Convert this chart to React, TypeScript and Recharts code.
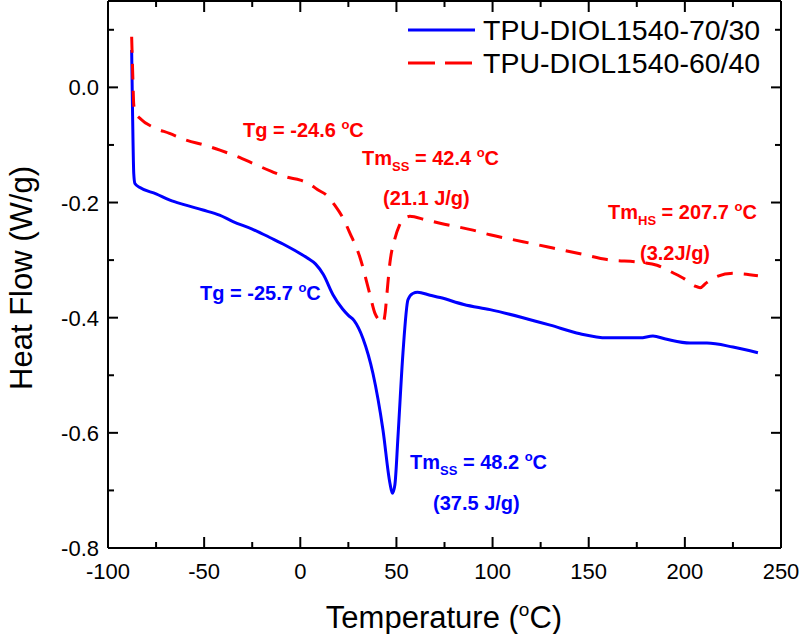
import React from "react";
import { Line, LineChart, XAxis, YAxis } from "recharts";

// TPU-DIOL1540-70/30 (solid blue)
const BLUE_T = [
  -87.7, -87.2, -86.6, -86.0, -83.4, -75, -67.8, -60, -50.6, -42, -35, -25, -15, -9, -3,
  3.5, 8, 12, 17, 22, 25, 28, 32.6, 37.8, 43, 46.6, 47.9, 49.2, 50.8, 53.4, 56, 58.5, 61,
  67.5, 72.7, 85, 98.7, 115.8, 130, 145.5, 159.5, 176.7, 183.4, 190, 202.7, 211.5, 225, 238,
];
const BLUE_H = [
  0.065, -0.05, -0.15, -0.167, -0.174, -0.185, -0.196, -0.204, -0.213, -0.222, -0.233, -0.246,
  -0.262, -0.272, -0.283, -0.296, -0.307, -0.325, -0.36, -0.385, -0.396, -0.405, -0.436,
  -0.497, -0.595, -0.687, -0.705, -0.69, -0.607, -0.461, -0.369, -0.358, -0.356, -0.361,
  -0.365, -0.377, -0.386, -0.4, -0.413, -0.428, -0.435, -0.435, -0.432, -0.437, -0.444,
  -0.444, -0.451, -0.461,
];

// TPU-DIOL1540-60/40 (dashed red)
const RED_T = [
  -87.7, -87.2, -86.6, -86.0, -83, -76.6, -68, -58.9, -50, -41.8, -33, -24.6, -15, -6.9, 0,
  5, 8.7, 13.9, 18, 22.2, 25.8, 31, 36, 38.9, 41, 43, 44.2, 45.1, 46.6, 49, 51.5, 54, 57,
  65, 72.7, 89.8, 98.7, 115.8, 131.4, 147, 159.5, 176.7, 185.5, 193.8, 200, 205.3, 207.9,
  211, 215.7, 225, 238,
];
const RED_H = [
  0.088, 0.03, -0.03, -0.042, -0.055, -0.069, -0.08, -0.092, -0.1, -0.109, -0.12, -0.132,
  -0.146, -0.156, -0.161, -0.168, -0.177, -0.188, -0.205, -0.227, -0.253, -0.295, -0.357,
  -0.393, -0.404, -0.409, -0.39, -0.357, -0.305, -0.265, -0.24, -0.228, -0.224, -0.23,
  -0.236, -0.248, -0.256, -0.268, -0.279, -0.29, -0.299, -0.304, -0.309, -0.322, -0.333,
  -0.345, -0.348, -0.34, -0.33, -0.323, -0.327,
];

const X_TICKS = [-100, -75, -50, -25, 0, 25, 50, 75, 100, 125, 150, 175, 200, 225, 250];
const Y_TICKS = [-0.8, -0.7, -0.6, -0.5, -0.4, -0.3, -0.2, -0.1, 0, 0.1];

const BLUE = "#0000ff";
const RED = "#ff0000";
const FONT = "Arial, 'Liberation Sans', sans-serif";

const blueData = BLUE_T.map((t, i) => ({ t, h: BLUE_H[i] }));
const redData = RED_T.map((t, i) => ({ t, h: RED_H[i] }));

const isMajorX = (v: number) => v % 50 === 0;
const isMajorY = (v: number) => Math.round(v * 10) % 2 === 0;

function BottomTick({ x, y, payload }: any) {
  const major = isMajorX(payload.value);
  return (
    <g>
      <line x1={x} x2={x} y1={y} y2={y - (major ? 11 : 6)} stroke="#000" strokeWidth={2} />
      {major && (
        <text x={x} y={y + 31} textAnchor="middle" fontSize={22} fontFamily={FONT} fill="#000">
          {payload.value}
        </text>
      )}
    </g>
  );
}

function TopTick({ x, y, payload }: any) {
  const major = isMajorX(payload.value);
  return <line x1={x} x2={x} y1={y} y2={y + (major ? 11 : 6)} stroke="#000" strokeWidth={2} />;
}

function LeftTick({ x, y, payload }: any) {
  const major = isMajorY(payload.value);
  return (
    <g>
      <line x1={x} x2={x + (major ? 10 : 6)} y1={y} y2={y} stroke="#000" strokeWidth={2} />
      {major && (
        <text x={x - 9} y={y + 8} textAnchor="end" fontSize={22} fontFamily={FONT} fill="#000">
          {payload.value.toFixed(1)}
        </text>
      )}
    </g>
  );
}

function RightTick({ x, y, payload }: any) {
  const major = isMajorY(payload.value);
  return <line x1={x} x2={x - (major ? 10 : 6)} y1={y} y2={y} stroke="#000" strokeWidth={2} />;
}

// bold annotation: main text, optional subscript, then "= value °C"
function Note({ x, y, color, main, sub, rest, deg }: any) {
  return (
    <text x={x} y={y} fill={color} fontSize={20} fontWeight="bold" fontFamily={FONT}>
      {main}
      {sub && (
        <tspan fontSize={13} dy={6}>
          {sub}
        </tspan>
      )}
      <tspan dy={sub ? -6 : 0}>{rest}</tspan>
      {deg && (
        <>
          <tspan fontSize={13} dy={-8}>
            o
          </tspan>
          <tspan dy={8}>C</tspan>
        </>
      )}
    </text>
  );
}

export default function App() {
  return (
    <div style={{ position: "absolute", left: 0, top: 0, width: 800, height: 634, background: "#fff" }}>
      <LineChart width={800} height={634} data={blueData} margin={{ top: 0, right: 18, bottom: 0, left: 0 }}>
        <XAxis
          xAxisId="bottom"
          dataKey="t"
          type="number"
          domain={[-100, 250]}
          ticks={X_TICKS}
          interval={0}
          height={86}
          tickSize={0}
          tickMargin={0}
          tickLine={false}
          axisLine={{ stroke: "#000", strokeWidth: 2 }}
          tick={(p: any) => <BottomTick {...p} />}
          allowDataOverflow
        />
        <XAxis
          xAxisId="top"
          orientation="top"
          dataKey="t"
          type="number"
          domain={[-100, 250]}
          ticks={X_TICKS}
          interval={0}
          height={1}
          tickSize={0}
          tickMargin={0}
          tickLine={false}
          axisLine={{ stroke: "#000", strokeWidth: 2 }}
          tick={(p: any) => <TopTick {...p} />}
          allowDataOverflow
        />
        <YAxis
          yAxisId="left"
          type="number"
          domain={[-0.8, 0.15]}
          ticks={Y_TICKS}
          interval={0}
          width={108}
          tickSize={0}
          tickMargin={0}
          tickLine={false}
          axisLine={{ stroke: "#000", strokeWidth: 2 }}
          tick={(p: any) => <LeftTick {...p} />}
          allowDataOverflow
        />
        <YAxis
          yAxisId="right"
          orientation="right"
          type="number"
          domain={[-0.8, 0.15]}
          ticks={Y_TICKS}
          interval={0}
          width={1}
          tickSize={0}
          tickMargin={0}
          tickLine={false}
          axisLine={{ stroke: "#000", strokeWidth: 2 }}
          tick={(p: any) => <RightTick {...p} />}
          allowDataOverflow
        />
        <Line
          xAxisId="bottom"
          yAxisId="left"
          data={blueData}
          dataKey="h"
          type="monotone"
          stroke={BLUE}
          strokeWidth={3}
          dot={false}
          isAnimationActive={false}
        />
        <Line
          xAxisId="bottom"
          yAxisId="left"
          data={redData}
          dataKey="h"
          type="monotone"
          stroke={RED}
          strokeWidth={3}
          strokeDasharray="16 11"
          dot={false}
          isAnimationActive={false}
        />
      </LineChart>

      <svg width={800} height={634} style={{ position: "absolute", left: 0, top: 0, pointerEvents: "none" }}>
        {/* legend */}
        <line x1={408} x2={475} y1={30} y2={30} stroke={BLUE} strokeWidth={3} />
        <text x={483} y={40} fontSize={28.5} fontFamily={FONT} fill="#000">
          TPU-DIOL1540-70/30
        </text>
        <line x1={408} x2={475} y1={63} y2={63} stroke={RED} strokeWidth={3} strokeDasharray="27 10" />
        <text x={483} y={73} fontSize={28.5} fontFamily={FONT} fill="#000">
          TPU-DIOL1540-60/40
        </text>

        {/* annotations */}
        <Note x={243} y={137} color={RED} main="Tg" rest=" = -24.6 " deg />
        <Note x={362} y={165} color={RED} main="Tm" sub="SS" rest=" = 42.4 " deg />
        <Note x={383} y={205} color={RED} main="(21.1 J/g)" rest="" />
        <Note x={608} y={219} color={RED} main="Tm" sub="HS" rest=" = 207.7 " deg />
        <Note x={640} y={260} color={RED} main="(3.2J/g)" rest="" />
        <Note x={200} y={300} color={BLUE} main="Tg" rest=" = -25.7 " deg />
        <Note x={410} y={469} color={BLUE} main="Tm" sub="SS" rest=" = 48.2 " deg />
        <Note x={433} y={510} color={BLUE} main="(37.5 J/g)" rest="" />

        {/* axis titles */}
        <text x={444} y={628} textAnchor="middle" fontSize={31} fontFamily={FONT} fill="#000">
          Temperature (
          <tspan fontSize={19} dy={-12}>
            o
          </tspan>
          <tspan dy={12}>C)</tspan>
        </text>
        <text
          transform="translate(32,278) rotate(-90)"
          textAnchor="middle"
          fontSize={31}
          fontFamily={FONT}
          fill="#000"
        >
          Heat Flow (W/g)
        </text>
      </svg>
    </div>
  );
}
